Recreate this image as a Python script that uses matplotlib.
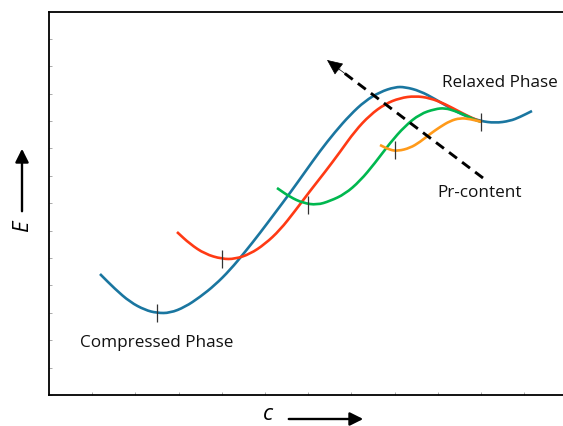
import matplotlib
matplotlib.use("Agg")
import matplotlib.pyplot as plt
from matplotlib.path import Path
from matplotlib.patches import PathPatch, FancyArrowPatch
import numpy as np

# Data in arbitrary units (x: c, y: E)
blue_x = [51, 66, 81, 96, 108, 121, 136, 151, 166, 181, 196, 211, 226, 241, 256, 271,
          286, 301, 316, 331, 346, 356, 371, 386, 401, 416, 431, 446, 461, 471, 483]
blue_y = [121, 106, 93, 85, 82, 82, 88, 98, 110, 125, 143, 162, 182, 202, 223, 244,
          263, 280, 294, 303, 308, 308, 304, 296, 287, 279, 274, 272, 274, 278, 284]

red_x = [128, 141, 156, 173, 186, 201, 216, 231, 246, 261, 276, 291, 306, 321, 336,
         351, 366, 381, 396, 411, 423, 433]
red_y = [163, 151, 141, 136, 136, 141, 151, 165, 184, 204, 223, 243, 264, 280, 291,
         297, 299, 297, 291, 283, 277, 273]

green_x = [228, 241, 254, 268, 281, 296, 311, 326, 341, 356, 371, 386, 396, 406, 416, 426, 433]
green_y = [207, 198, 192, 190, 194, 201, 214, 232, 252, 269, 281, 286, 287, 284, 280, 275, 273]

orange_x = [331, 341, 349, 361, 371, 381, 391, 401, 411, 421, 433]
orange_y = [250, 245, 244, 247, 253, 261, 268, 274, 277, 276, 273]

# Minimum markers (x, y)
min_x = [108, 173, 259, 346, 432]
min_y = [82, 136, 190, 245, 273]

# Pr-content arrow (tail, tip)
arrow_tail = (434, 217)
arrow_tip = (278, 335)

labels = [("Relaxed Phase", 451, 312), ("Pr-content", 431, 202), ("Compressed Phase", 108, 52)]

colors = {"blue": "#1a76a0", "red": "#ff3a14", "green": "#00b84f", "orange": "#ff9a1a"}

plt.rcParams['font.family'] = ['Open Sans', 'DejaVu Sans']

fig = plt.figure(figsize=(5.63, 4.26), dpi=100)
ax = fig.add_axes([49/563, 31/426, 516/563, 383/426])
ax.set_xlim(0, 516)
ax.set_ylim(0, 383)


def smooth_path(xs, ys):
    pts = list(zip(xs, ys))
    verts = [pts[0]]
    codes = [Path.MOVETO]
    mid = ((pts[0][0] + pts[1][0]) / 2, (pts[0][1] + pts[1][1]) / 2)
    verts.append(mid)
    codes.append(Path.LINETO)
    for i in range(1, len(pts) - 1):
        nxt = ((pts[i][0] + pts[i + 1][0]) / 2, (pts[i][1] + pts[i + 1][1]) / 2)
        verts += [pts[i], nxt]
        codes += [Path.CURVE3, Path.CURVE3]
    verts.append(pts[-1])
    codes.append(Path.LINETO)
    return Path(verts, codes)


lw = 1.9
for xs, ys, c, z in [(blue_x, blue_y, colors["blue"], 2), (red_x, red_y, colors["red"], 3),
                     (green_x, green_y, colors["green"], 4), (orange_x, orange_y, colors["orange"], 5)]:
    ax.add_patch(PathPatch(smooth_path(xs, ys), facecolor='none', edgecolor=c, lw=lw,
                           capstyle='butt', joinstyle='round', zorder=z))

ax.plot(min_x, min_y, linestyle='none', marker='|', markersize=13, markeredgewidth=0.9,
        color='#333333', zorder=6)

# dashed arrow
dx = arrow_tip[0] - arrow_tail[0]
dy = arrow_tip[1] - arrow_tail[1]
frac = 0.92
ax.plot([arrow_tail[0], arrow_tail[0] + frac * dx], [arrow_tail[1], arrow_tail[1] + frac * dy],
        color='black', lw=2.1, linestyle=(0, (3.4, 2.2)), zorder=7)
ax.annotate('', xy=arrow_tip, xytext=(arrow_tail[0] + 0.88 * dx, arrow_tail[1] + 0.88 * dy),
            arrowprops=dict(arrowstyle='-|>,head_length=1.0,head_width=0.45', color='black',
                            lw=0.5, shrinkA=0, shrinkB=0), zorder=8)

for txt, x, y in labels:
    ax.text(x, y, txt, ha='center', va='center', fontsize=12.3, color='#111111')

ax.spines['right'].set_visible(False)
for side in ['left', 'top', 'bottom']:
    ax.spines[side].set_linewidth(1.3)

ax.set_xticks(np.arange(0, 516, 43.2))
ax.set_yticks(np.arange(0, 383, 27.4))
ax.tick_params(direction='in', length=2.5, width=0.5, color='#888888',
               labelbottom=False, labelleft=False)

# axis label arrows (figure coordinates in pixels)
W, H = 563, 426


def fx(px):
    return px / W


def fy(py):
    return 1 - py / H


fig.text(fx(23), fy(226), 'E', rotation=90, ha='center', va='center', fontsize=16,
         style='italic', family=['Open Sans', 'DejaVu Sans'])
fig.patches.append(FancyArrowPatch(
    (fx(22), fy(214)), (fx(22), fy(146)), transform=fig.transFigure,
    arrowstyle='-|>,head_length=8,head_width=4', mutation_scale=1, lw=1.7, color='black'))

fig.text(fx(268), fy(414), 'c', ha='center', va='center', fontsize=16,
         style='italic', family=['Open Sans', 'DejaVu Sans'])
fig.patches.append(FancyArrowPatch(
    (fx(286), fy(419)), (fx(366), fy(419)), transform=fig.transFigure,
    arrowstyle='-|>,head_length=8,head_width=4', mutation_scale=1, lw=1.7, color='black'))

fig.savefig('out.png', dpi=100)
